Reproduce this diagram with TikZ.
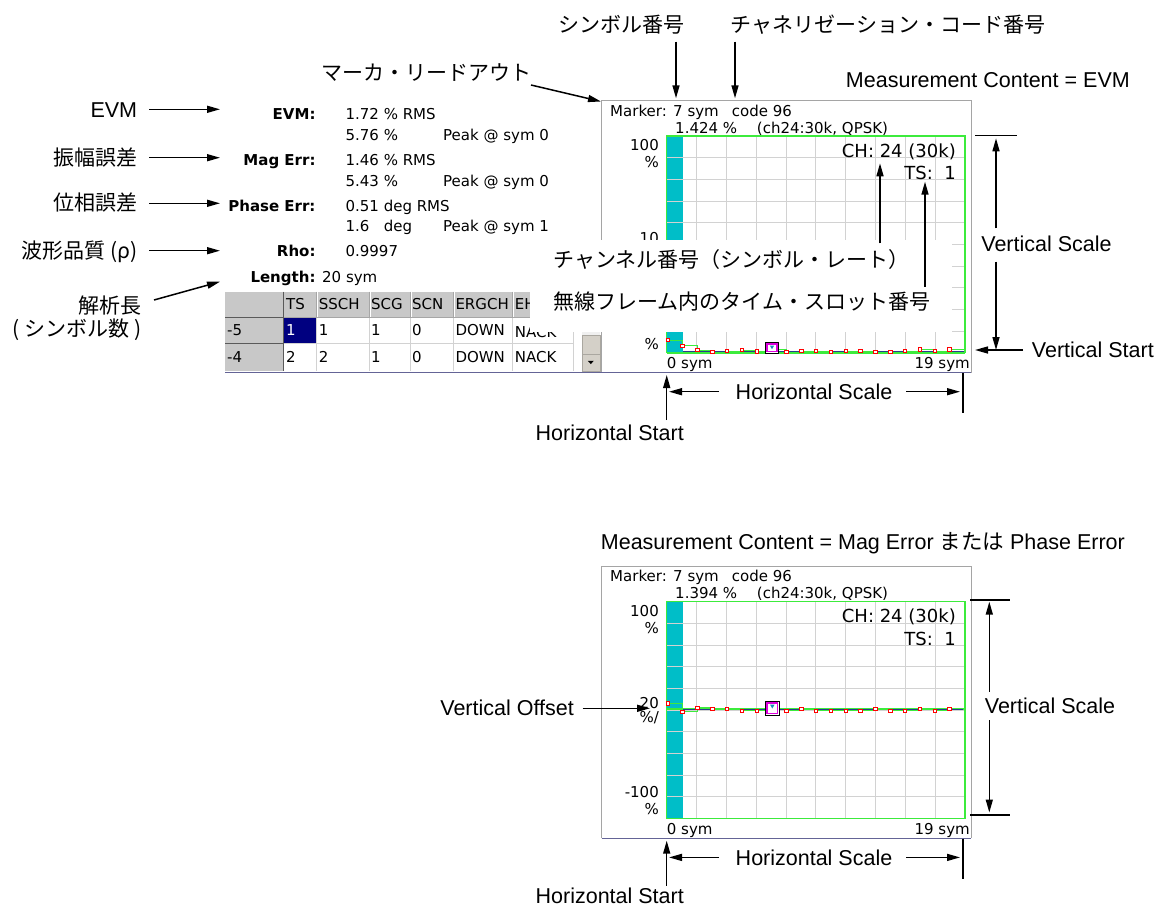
\documentclass[tikz,border=0pt]{standalone}
\usepackage{fontspec}
\setmainfont{Liberation Sans}
\newfontfamily\jpf{Noto Sans CJK JP}
\newfontfamily\scrf{DejaVu Sans}
\usetikzlibrary{arrows.meta}
\definecolor{cyanbar}{RGB}{0,190,200}
\definecolor{grn}{RGB}{60,235,60}
\definecolor{gridc}{RGB}{210,210,210}
\definecolor{framec}{RGB}{165,165,165}
\definecolor{hdr}{RGB}{200,200,200}
\definecolor{hdrdark}{RGB}{90,90,90}
\definecolor{navyc}{RGB}{0,0,128}
\definecolor{magc}{RGB}{220,0,220}
\definecolor{tracebl}{RGB}{40,60,140}
\definecolor{botline}{RGB}{100,100,150}
\definecolor{btn}{RGB}{212,208,200}

\newcommand\tekpanel[2]{%
  \fill[white] (601.7,100.7) rectangle (971,372.7);
  \draw[framec, line width=1pt] (601.7,372.7) -- (601.7,100.7) -- (971,100.7) -- (971,372.7);
  \draw[botline, line width=1.2pt] (601.7,372.7) -- (971,372.7);
  \fill[cyanbar] (666.7,136) rectangle (682.7,352.7);
  \foreach \k in {1,...,9} {
    \draw[gridc, line width=1pt] ({666.7+29.83*\k},136) -- ({666.7+29.83*\k},352.7);
    \draw[gridc, line width=1pt] (666.7,{136+21.67*\k}) -- (965,{136+21.67*\k});
  }
  \draw[grn, line width=1.4pt] (666.7,136) rectangle (965,352.7);
  \node[scr, anchor=west] (#1mk) at (610,110.7) {Marker: 7 sym};
  \node[scr, anchor=west] (#1code) at (731.7,110.7) {code 96};
  \node[scr, anchor=west] (#1mv) at (675,127.7) {#2 \%};
  \node[scr, anchor=west] (#1ch24) at (756.7,127.7) {(ch24:30k, QPSK)};
  \node[scr, anchor=east] (#1top) at (659,145) {100};
  \node[scr, anchor=east] (#1topu) at (659,162.5) {\%};
  \node[scr, anchor=west] (#1xs) at (666.7,363.5) {0 sym};
  \node[scr, anchor=east] (#1xe) at (970,363.5) {19 sym};
  \node[scrbig, anchor=east] (#1ch) at (956,150.7) {CH: 24 (30k)};
  \node[scrbig, anchor=east] (#1ts) at (956,173.3) {TS:\ \ 1};
}

\begin{document}
\begin{tikzpicture}[x=1pt,y=-1pt,
  lbl/.style={font=\fontsize{21.5}{24}\selectfont, inner sep=0pt, text height=15.4pt, text depth=0pt},
  jlbl/.style={font=\jpf\fontsize{21}{24}\selectfont, inner sep=0pt, text height=17pt, text depth=2pt},
  scr/.style={font=\scrf\fontsize{15}{17}\selectfont, inner sep=0pt, text height=10.9pt, text depth=0pt},
  scrb/.style={font=\scrf\bfseries\fontsize{15}{17}\selectfont, inner sep=0pt, text height=10.9pt, text depth=0pt},
  scrbig/.style={font=\scrf\fontsize{18}{20}\selectfont, inner sep=0pt, text height=13.1pt, text depth=0pt},
  arr/.style={line width=1.5pt, -{Triangle[length=13pt,width=7pt]}},
  bar/.style={line width=1.5pt},
  redsq/.style={red, line width=0.7pt, fill=white},
]
\useasboundingbox (0,0) rectangle (1161,907);
\fill[white] (0,0) rectangle (1161,907);

% ================= TOP PANEL =================
\tekpanel{a}{1.424}
\node[scr, anchor=east] (amid) at (659,237.6) {10};
\node[scr, anchor=east] (abotu) at (659,343.6) {\%};

\def\topys{{340,345.7,350,352,351,350,351.5,349,352,351,351,352,351,351,352,352,351,349.5,351,349.5}}
\draw[tracebl, line width=0.8pt] (682.7,351.3) -- (964,351.3);
\draw[grn, line width=2.2pt] (666.7,352.7) -- (965,352.7);
\foreach \i in {0,...,18} {
  \pgfmathsetmacro\xa{667.7+14.83*\i}
  \pgfmathsetmacro\xb{667.7+14.83*(\i+1)}
  \pgfmathsetmacro\ya{\topys[\i]}
  \pgfmathsetmacro\yb{\topys[\i+1]}
  \draw[grn, line width=1pt] (\xa,\ya) -- (\xb,\ya) -- (\xb,\yb);
}
\draw[grn, line width=1pt] (949.5,349.5) -- (965,349.5);
\foreach \i in {0,...,19} {
  \ifnum\i=7\else
  \pgfmathsetmacro\xa{667.7+14.83*\i}
  \pgfmathsetmacro\ya{\topys[\i]}
  \draw[redsq] (\xa-1.7,\ya-1.7) rectangle (\xa+1.7,\ya+1.7);
  \fi
}
\draw[black, line width=0.9pt, fill=white] (765.7,342.5) rectangle (778.5,353);
\draw[magc, line width=1.6pt] (767.2,344) rectangle (777,351.5);
\fill[tracebl!60!cyan] (769.8,345.5) -- (774.2,345.5) -- (772,349.2) -- cycle;

% ================= MEASUREMENT TEXT =================
\node[scrb, anchor=east] (mEVM) at (315.7,114.3) {EVM:};
\node[scr, anchor=west] (vEVM) at (345.4,114.3) {1.72 \% RMS};
\node[scr, anchor=west] (vEVM2) at (345.4,135) {5.76 \%};
\node[scr, anchor=west] (pEVM) at (443,135) {Peak @ sym 0};
\node[scrb, anchor=east] (mMag) at (315.7,160) {Mag Err:};
\node[scr, anchor=west] (vMag) at (345.4,160) {1.46 \% RMS};
\node[scr, anchor=west] (vMag2) at (345.4,180.7) {5.43 \%};
\node[scr, anchor=west] (pMag) at (443,180.7) {Peak @ sym 0};
\node[scrb, anchor=east] (mPh) at (315.7,205.7) {Phase Err:};
\node[scr, anchor=west] (vPh) at (345.4,205.7) {0.51 deg RMS};
\node[scr, anchor=west] (vPh2) at (345.4,226) {1.6};
\node[scr, anchor=west] (vPh3) at (383.6,226) {deg};
\node[scr, anchor=west] (pPh) at (443,226) {Peak @ sym 1};
\node[scrb, anchor=east] (mRho) at (315.7,251) {Rho:};
\node[scr, anchor=west] (vRho) at (345.4,251) {0.9997};
\node[scrb, anchor=east] (mLen) at (315.7,276.7) {Length:};
\node[scr, anchor=west] (vLen) at (322,276.7) {20 sym};

% ================= TABLE =================
\fill[hdr] (225,291.7) rectangle (573.3,317.3);
\fill[hdr] (225,317.3) rectangle (283.3,370.7);
\fill[white] (283.3,317.3) rectangle (573.3,370.7);
\fill[navyc] (283.3,317.3) rectangle (316.7,343.8);
\foreach \x in {316.7,369,410,453.3,512.7} {
  \draw[gray!70, line width=0.8pt] (\x,291.7) -- (\x,317.3);
  \draw[white, line width=0.8pt] (\x+1,291.7) -- (\x+1,317.3);
  \draw[gridc, line width=0.8pt] (\x,317.3) -- (\x,370.7);
}
\draw[gridc, line width=0.8pt] (573.3,317.3) -- (573.3,370.7);
\draw[gridc, line width=0.8pt] (283.3,343.8) -- (573.3,343.8);
\draw[gray!70, line width=0.8pt] (283.3,317.3) -- (573.3,317.3);
\draw[hdrdark, line width=1.3pt] (283.3,291.7) -- (283.3,370.7);
\draw[hdrdark, line width=1.3pt] (225,317.3) -- (283.3,317.3);
\draw[hdrdark, line width=1.3pt] (225,343.8) -- (283.3,343.8);
\node[scr, anchor=west] (hTS) at (286,304.5) {TS};
\node[scr, anchor=west] (hSSCH) at (318.7,304.5) {SSCH};
\node[scr, anchor=west] (hSCG) at (371,304.5) {SCG};
\node[scr, anchor=west] (hSCN) at (412,304.5) {SCN};
\node[scr, anchor=west] (hERG) at (455.3,304.5) {ERGCH};
\node[scr, anchor=west] (hEH) at (514.7,304.5) {EH};
\node[scr, anchor=west] (r1h) at (227,330.5) {-5};
\node[scr, anchor=west, text=white] (r1a) at (286,330.5) {1};
\node[scr, anchor=west] (r1b) at (318.7,330.5) {1};
\node[scr, anchor=west] (r1c) at (371,330.5) {1};
\node[scr, anchor=west] (r1d) at (412,330.5) {0};
\node[scr, anchor=west] (r1e) at (455.3,330.5) {DOWN};
\node[scr, anchor=west] (r1f) at (514.7,332) {NACK};
\node[scr, anchor=west] (r2h) at (227,357.3) {-4};
\node[scr, anchor=west] (r2a) at (286,357.3) {2};
\node[scr, anchor=west] (r2b) at (318.7,357.3) {2};
\node[scr, anchor=west] (r2c) at (371,357.3) {1};
\node[scr, anchor=west] (r2d) at (412,357.3) {0};
\node[scr, anchor=west] (r2e) at (455.3,357.3) {DOWN};
\node[scr, anchor=west] (r2f) at (514.7,357.3) {NACK};
% scrollbar
\fill[gray!12] (581.7,331.5) rectangle (600,335);
\draw[btn!80!black, fill=btn] (581.7,335) rectangle (600,354);
\draw[btn!80!black, fill=btn] (581.7,354) rectangle (600,371);
\fill[black] (587.8,360.8) -- (593.8,360.8) -- (590.8,364.1) -- cycle;
\draw[botline, line width=1.2pt] (225,372.3) -- (971,372.3);

% ================= OVERLAY LABELS =================
\fill[white] (530,240) rectangle (952,331.5);
\node[jlbl, anchor=west] (jCH) at (553,259.5) {チャンネル番号（シンボル・レート）};
\node[jlbl, anchor=west] (jTS) at (553,302) {無線フレーム内のタイム・スロット番号};
\coordinate (tCH) at (880,163.3);
\coordinate (tTS) at (925,181.7);
\draw[arr] (880,243.3) -- (tCH);
\draw[arr] (925,286.7) -- (tTS);

% ================= TOP ANNOTATIONS =================
\node[jlbl] (jSym) at (621,25) {シンボル番号};
\node[jlbl] (jCode) at (888,25) {チャネリゼーション・コード番号};
\coordinate (tSym) at (676,98.3);
\coordinate (tCode) at (735,98.3);
\draw[arr] (676,41.7) -- (tSym);
\draw[arr] (735,41.7) -- (tCode);
\node[jlbl] (jMk) at (426.5,73.3) {マーカ・リードアウト};
\coordinate (tMk) at (601,101.5);
\draw[arr] (531,85) -- (tMk);
\node[lbl, anchor=east] (mcA) at (1130,80) {Measurement Content = EVM};

% left labels
\node[lbl, anchor=east] (lEVM) at (137.3,109.3) {EVM};
\node[jlbl, anchor=east] (lMag) at (137.3,157.7) {振幅誤差};
\node[jlbl, anchor=east] (lPh) at (137.3,203.3) {位相誤差};
\node[jlbl, anchor=east] (lRho) at (137.3,250.7) {波形品質 (ρ)};
\node[jlbl, anchor=east] (lLen) at (141.7,306) {解析長};
\node[jlbl, anchor=east] (lLen2) at (141.7,329.3) {( シンボル数 )};
\coordinate (tEVM) at (220,109.3);
\coordinate (tMag) at (220,157.7);
\coordinate (tPh) at (220,203.3);
\coordinate (tRho) at (220,250.7);
\coordinate (tLen) at (220,281.7);
\draw[arr] ([xshift=11.7pt]lEVM.east) -- (tEVM);
\draw[arr] ([xshift=11.7pt]lMag.east) -- (tMag);
\draw[arr] ([xshift=11.7pt]lPh.east) -- (tPh);
\draw[arr] ([xshift=11.7pt]lRho.east) -- (tRho);
\draw[arr] (154,300) -- (tLen);

% right side, top
\draw[bar] (975,135.7) -- (1016.7,135.7);
\node[lbl] (vsA) at (1046.5,243.3) {Vertical Scale};
\coordinate (vsAt) at (996,138.3);
\coordinate (vsAb) at (996,350);
\draw[arr] (996,228.3) -- (vsAt);
\draw[arr] (996,261.7) -- (vsAb);
\node[lbl, anchor=west] (vstA) at (1031.7,350) {Vertical Start};
\coordinate (vstAt) at (975,350);
\draw[arr] (1023,350) -- (vstAt);

% bottom of top panel
\node[lbl] (hsA) at (814,391.7) {Horizontal Scale};
\coordinate (hsAl) at (669,391.7);
\coordinate (hsAr) at (960,391.7);
\draw[arr] (719,391.7) -- (hsAl);
\draw[arr] (906,391.7) -- (hsAr);
\coordinate (hstAt) at (666.7,375);
\draw[arr] (666.7,420) -- (hstAt);
\draw[bar] (963,373) -- (963,413);
\node[lbl, anchor=east] (hstA) at (684,432.7) {Horizontal Start};

% ================= BOTTOM PANEL =================
\node[lbl, anchor=west] (mcB) at (600.7,541.7) {Measurement Content = Mag Error {\jpf または} Phase Error};
\begin{scope}[shift={(0,465.67)}]
\tekpanel{b}{1.394}
\end{scope}
\node[scr, anchor=east] (bmid) at (659,703) {20};
\node[scr, anchor=east] (bmidu) at (659,717) {\%/};
\node[scr, anchor=east] (bbot) at (659,791.7) {-100};
\node[scr, anchor=east] (bbotu) at (659,809.3) {\%};

\def\botys{{703.3,711.7,707.7,709,709,710.7,710.7,708,710.7,709,710.7,710.7,710.7,710.7,709,710.7,710.7,709,710.7,709}}
\draw[grn, line width=1.2pt] (666.7,709) -- (965,709);
\draw[tracebl, line width=0.8pt] (682.7,709.6) -- (963,709.6);
\foreach \i in {0,...,18} {
  \pgfmathsetmacro\xa{667.7+14.83*\i}
  \pgfmathsetmacro\xb{667.7+14.83*(\i+1)}
  \pgfmathsetmacro\ya{\botys[\i]}
  \pgfmathsetmacro\yb{\botys[\i+1]}
  \draw[grn, line width=1pt] (\xa,\ya) -- (\xb,\ya) -- (\xb,\yb);
}
\foreach \i in {0,...,19} {
  \ifnum\i=7\else
  \pgfmathsetmacro\xa{667.7+14.83*\i}
  \pgfmathsetmacro\ya{\botys[\i]}
  \draw[redsq] (\xa-1.7,\ya-1.7) rectangle (\xa+1.7,\ya+1.7);
  \fi
}
\draw[black, line width=0.9pt, fill=white] (765.7,701.5) rectangle (779,715);
\draw[magc, line width=1.6pt] (767.2,703) rectangle (777.5,713.5);
\fill[tracebl!60!cyan] (770,704.5) -- (774.6,704.5) -- (772.3,708.5) -- cycle;

% left of bottom panel
\node[lbl, anchor=east] (voff) at (574,707.3) {Vertical Offset};
\coordinate (voffT) at (650,708.3);
\draw[arr] (582.7,708.3) -- (voffT);

% right of bottom panel
\draw[bar] (970,600) -- (1010,600);
\draw[bar] (970,815) -- (1010,815);
\node[lbl] (vsB) at (1050,706) {Vertical Scale};
\coordinate (vsBt) at (989.3,601.7);
\coordinate (vsBb) at (989.3,812.5);
\draw[arr] (989.3,691.7) -- (vsBt);
\draw[arr] (989.3,720) -- (vsBb);

% below bottom panel
\node[lbl] (hsB) at (814,857.4) {Horizontal Scale};
\coordinate (hsBl) at (669,857.4);
\coordinate (hsBr) at (960,857.4);
\draw[arr] (719,857.4) -- (hsBl);
\draw[arr] (906,857.4) -- (hsBr);
\coordinate (hstBt) at (666.7,840.7);
\draw[arr] (666.7,885.7) -- (hstBt);
\draw[bar] (963,838.7) -- (963,878.7);
\node[lbl, anchor=east] (hstB) at (684,895.5) {Horizontal Start};
\end{tikzpicture}
\end{document}
